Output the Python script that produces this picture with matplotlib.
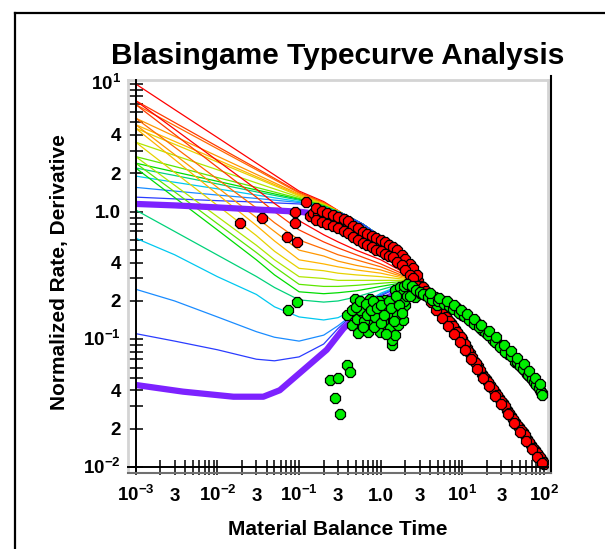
import numpy as np
import matplotlib
matplotlib.use("Agg")
import matplotlib.pyplot as plt
from matplotlib.lines import Line2D
from matplotlib import transforms
from matplotlib.ticker import FixedLocator, NullLocator, NullFormatter

plt.rcParams['font.family'] = ['Liberation Sans', 'DejaVu Sans']
plt.rcParams['mathtext.fontset'] = 'custom'
plt.rcParams['mathtext.rm'] = 'Liberation Sans:bold'
plt.rcParams['mathtext.bf'] = 'Liberation Sans:bold'
plt.rcParams['mathtext.sf'] = 'Liberation Sans:bold'
plt.rcParams['mathtext.it'] = 'Liberation Sans:bold'

# ---------------- data ----------------
TC_COLORS = ['#ff0000', '#ff3a00', '#ff6a00', '#ff9600', '#ffb400', '#e6d200',
             '#b0e600', '#5ce600', '#00dc00', '#00d27a', '#00c8f0', '#1a8cff', '#2a3cff']
MATCH_COLOR = '#7d22ff'

# rate type curves (upper family)
UX = [0.001, 0.003, 0.01, 0.03, 0.1, 0.2]
U_STEM_X = [0.35, 0.6, 1, 2, 3, 5, 10, 20, 30, 50, 100]
U_STEM_Y = [0.96, 0.80, 0.64, 0.44, 0.30, 0.19, 0.10, 0.048, 0.033, 0.020, 0.0103]
U0 = [10.0, 6.3, 3.81, 2.40, 1.45, 1.20]
U1 = [7.4, 4.99, 3.24, 2.19, 1.42, 1.18]
U2 = [6.9, 4.72, 3.11, 2.13, 1.40, 1.17]
U3 = [5.4, 3.89, 2.72, 1.96, 1.37, 1.16]
U4 = [4.8, 3.55, 2.55, 1.88, 1.35, 1.15]
U5 = [4.5, 3.37, 2.45, 1.83, 1.33, 1.14]
U6 = [3.5, 2.76, 2.13, 1.68, 1.30, 1.13]
U7 = [2.7, 2.26, 1.85, 1.55, 1.27, 1.12]
U8 = [2.4, 2.05, 1.73, 1.48, 1.25, 1.11]
U9 = [2.2, 1.92, 1.65, 1.43, 1.23, 1.10]
U10 = [1.9, 1.70, 1.51, 1.35, 1.20, 1.09]
U11 = [1.55, 1.45, 1.35, 1.27, 1.18, 1.08]
U12 = [1.3, 1.26, 1.22, 1.19, 1.15, 1.07]
U_MATCH_X = [0.001, 0.003, 0.01, 0.03, 0.1, 0.13]
U_MATCH_Y = [1.15, 1.12, 1.08, 1.04, 1.0, 0.98]

# derivative type curves (lower family)
LX = [0.001, 0.003, 0.01, 0.03, 0.05, 0.1, 0.2, 0.3, 0.5, 1, 2]
L_STEM_X = [3, 5, 10, 20, 30, 50, 100]
L_STEM_Y = [0.24, 0.195, 0.155, 0.112, 0.087, 0.063, 0.037]
L0 = [7.4, 4.42, 2.51, 1.50, 1.16, 0.85, 0.66, 0.58, 0.50, 0.42, 0.33]
L1 = [6.9, 4.03, 2.23, 1.30, 1.00, 0.72, 0.58, 0.52, 0.46, 0.39, 0.32]
L2 = [5.4, 3.20, 1.80, 1.07, 0.82, 0.60, 0.51, 0.46, 0.42, 0.37, 0.31]
L3 = [4.8, 2.80, 1.55, 0.90, 0.70, 0.50, 0.45, 0.41, 0.38, 0.35, 0.305]
L4 = [4.5, 2.56, 1.37, 0.78, 0.59, 0.42, 0.39, 0.37, 0.35, 0.33, 0.30]
L5 = [3.5, 2.03, 1.12, 0.65, 0.49, 0.36, 0.345, 0.33, 0.32, 0.31, 0.295]
L6 = [2.7, 1.61, 0.915, 0.546, 0.42, 0.31, 0.30, 0.29, 0.29, 0.29, 0.29]
L7 = [2.4, 1.43, 0.806, 0.479, 0.37, 0.27, 0.26, 0.26, 0.265, 0.275, 0.285]
L8 = [2.2, 1.29, 0.72, 0.42, 0.32, 0.236, 0.228, 0.232, 0.24, 0.26, 0.28]
L9 = [1.03, 0.70, 0.458, 0.311, 0.255, 0.204, 0.196, 0.20, 0.215, 0.245, 0.278]
L10 = [0.62, 0.46, 0.31, 0.225, 0.18, 0.15, 0.142, 0.148, 0.175, 0.23, 0.275]
L11 = [0.247, 0.20, 0.15, 0.115, 0.104, 0.097, 0.108, 0.128, 0.165, 0.225, 0.272]
L12 = [0.111, 0.097, 0.083, 0.070, 0.068, 0.073, 0.092, 0.122, 0.165, 0.22, 0.27]
L_MATCH_X = [0.001, 0.0038, 0.0157, 0.0365, 0.058, 0.1, 0.218, 0.35, 0.5, 1, 2]
L_MATCH_Y = [0.044, 0.039, 0.0356, 0.0356, 0.040, 0.054, 0.083, 0.122, 0.15, 0.20, 0.25]

# field data: normalized rate (red)
RATE_X = [0.0189, 0.0355, 0.0718, 0.095, 0.089, 0.089, 0.121, 0.136, 0.15, 0.17,
          0.189, 0.21, 0.239, 0.26, 0.29, 0.316, 0.34, 0.37, 0.40, 0.43,
          0.46, 0.5, 0.54, 0.58, 0.62, 0.67, 0.72, 0.78, 0.85, 0.92,
          1.0, 1.08, 1.17, 1.27, 1.38, 1.5, 1.62, 1.75, 1.9, 2.05,
          2.2, 2.4, 2.6, 2.85, 3.1, 3.4, 3.78, 4.2, 4.7, 5.3,
          5.9, 6.5, 7.2, 8.0, 9.0, 10, 11.2, 12.5, 14, 15.6,
          17.5, 19.5, 22, 25, 28, 31, 35, 39, 44, 49,
          55, 62, 69, 77, 85, 93, 100,
          # upper edge of the band
          0.16, 0.19, 0.22, 0.26, 0.3, 0.35, 0.4, 0.46, 0.52, 0.6,
          0.68, 0.77, 0.87, 1.0, 1.13, 1.27, 1.43, 1.6, 1.8, 2.0,
          2.25, 2.5, 2.8,
          # lower edge of the band
          0.16, 0.19, 0.22, 0.26, 0.3, 0.35, 0.4, 0.46, 0.52, 0.6,
          0.68, 0.77, 0.87, 1.0, 1.13, 1.27, 1.43, 1.6, 1.8, 2.0,
          2.25, 2.5, 2.8,
          # late-time stem
          3.25, 3.6, 4.0, 4.45, 5.0, 5.6, 6.2, 6.85, 7.6, 8.5,
          9.5, 10.6, 11.8, 13.2, 14.8, 16.5, 18.5, 20.7, 23.5, 26.5,
          29.5, 33, 37, 41.5, 46.5, 52, 58.5, 65.5, 73, 81, 89, 96.5,
          # late-time stem, lower side
          3.5, 4.1, 4.8, 5.6, 6.6, 7.8, 9.2, 10.8, 12.7, 15,
          17.8, 21, 25, 30, 36, 43, 51, 60, 70, 82, 95]
RATE_Y = [0.82, 0.887, 0.637, 0.582, 0.816, 1.0, 1.2, 0.925, 0.98, 0.95,
          0.914, 0.90, 0.861, 0.85, 0.83, 0.816, 0.80, 0.78, 0.763, 0.72,
          0.70, 0.67, 0.66, 0.64, 0.62, 0.61, 0.60, 0.58, 0.56, 0.55,
          0.55, 0.53, 0.52, 0.50, 0.49, 0.47, 0.45, 0.43, 0.41, 0.38,
          0.36, 0.34, 0.31, 0.285, 0.26, 0.245, 0.231, 0.20, 0.19, 0.17,
          0.155, 0.145, 0.135, 0.12, 0.108, 0.10, 0.085, 0.078, 0.068, 0.062,
          0.054, 0.049, 0.044, 0.039, 0.035, 0.032, 0.028, 0.025, 0.0225, 0.0205,
          0.019, 0.0165, 0.0148, 0.0135, 0.0124, 0.0114, 0.0105,
          1.06, 1.01, 0.98, 0.94, 0.91, 0.87, 0.84, 0.77, 0.74, 0.69,
          0.67, 0.64, 0.62, 0.60, 0.58, 0.55, 0.53, 0.50, 0.46, 0.43,
          0.39, 0.36, 0.32,
          0.86, 0.83, 0.80, 0.77, 0.74, 0.71, 0.68, 0.63, 0.60, 0.57,
          0.55, 0.53, 0.50, 0.495, 0.47, 0.45, 0.44, 0.405, 0.38, 0.35,
          0.32, 0.30, 0.26,
          0.255, 0.238, 0.215, 0.196, 0.18, 0.163, 0.15, 0.14, 0.128, 0.114,
          0.104, 0.092, 0.081, 0.073, 0.065, 0.058, 0.051, 0.046, 0.041, 0.037,
          0.033, 0.030, 0.0265, 0.0238, 0.0215, 0.0197, 0.0177, 0.0156, 0.0141, 0.0129,
          0.0119, 0.0109,
          0.225, 0.195, 0.17, 0.148, 0.128, 0.11, 0.096, 0.082, 0.07, 0.059,
          0.05, 0.043, 0.036, 0.031, 0.026, 0.022, 0.0188, 0.016, 0.0138, 0.0121, 0.0107]

# field data: derivative (green)
DERIV_X = [0.0738, 0.0935, 0.239, 0.302, 0.275, 0.316, 0.383, 0.42, 0.383, 0.44,
           0.483, 0.507, 0.531, 0.605, 0.671, 0.74, 0.74, 0.89, 0.89, 0.977,
           0.977, 1.125, 1.16, 1.30, 1.30, 1.36, 1.36, 1.49, 1.49, 1.64,
           1.72, 1.72, 1.80, 1.88, 1.88, 2.0, 2.28, 2.5, 2.62, 3.02,
           3.47, 4.6, 4.83, 0.56, 0.62, 0.68, 0.8, 0.85, 1.05, 1.1,
           1.2, 1.4, 1.55, 1.6, 1.95, 2.1, 0.95, 0.7,
           0.45, 0.5, 0.55, 0.6, 0.65, 0.75, 0.8, 0.82, 0.9, 1.0,
           1.0, 1.1, 1.15, 1.25, 1.35, 1.45, 1.55, 1.65, 1.8, 1.9,
           2.1, 2.3, 2.4, 2.7,
           5.5, 6.41, 7.0, 8.5, 9.8, 11.2, 12.9, 14.9, 17.2, 18.8,
           22.8, 23.8, 27, 31.3, 36, 41.9, 44, 48, 53, 57,
           61, 67, 72, 77, 83, 89, 93,
           3.0, 3.3, 3.8, 4.2, 5.0, 5.9, 6.9, 7.6, 9.0, 10.4,
           12.0, 13.8, 16.0, 20.5, 25, 29, 33.5, 39, 46, 51,
           55, 64, 70, 75, 80, 86, 91, 95,
           4.0, 5.2, 6.4, 7.9, 9.5, 11.5, 14, 17, 21, 26,
           32, 39, 47, 56, 66, 78, 88]
DERIV_Y = [0.170, 0.197, 0.0481, 0.0496, 0.0346, 0.0261, 0.063, 0.0558, 0.155, 0.130,
           0.206, 0.144, 0.112, 0.161, 0.18, 0.130, 0.206, 0.192, 0.134, 0.160,
           0.115, 0.204, 0.130, 0.126, 0.160, 0.090, 0.099, 0.108, 0.244, 0.130,
           0.170, 0.259, 0.216, 0.142, 0.23, 0.186, 0.244, 0.244, 0.216, 0.231,
           0.223, 0.216, 0.186, 0.17, 0.14, 0.155, 0.165, 0.15, 0.14, 0.17,
           0.185, 0.19, 0.20, 0.155, 0.20, 0.22, 0.20, 0.115,
           0.17, 0.18, 0.20, 0.125, 0.19, 0.17, 0.20, 0.125, 0.175, 0.185,
           0.135, 0.155, 0.11, 0.20, 0.175, 0.14, 0.22, 0.185, 0.16, 0.26,
           0.27, 0.22, 0.26, 0.245,
           0.20, 0.197, 0.18, 0.175, 0.155, 0.151, 0.138, 0.134, 0.119, 0.115,
           0.102, 0.099, 0.092, 0.084, 0.077, 0.073, 0.067, 0.064, 0.061, 0.058,
           0.054, 0.051, 0.048, 0.0453, 0.043, 0.040, 0.0378,
           0.235, 0.225, 0.215, 0.205, 0.20, 0.19, 0.183, 0.172, 0.16, 0.152,
           0.142, 0.133, 0.124, 0.108, 0.096, 0.088, 0.080, 0.074, 0.066, 0.062,
           0.059, 0.0525, 0.049, 0.0465, 0.044, 0.0415, 0.039, 0.037,
           0.23, 0.212, 0.20, 0.185, 0.17, 0.158, 0.144, 0.13, 0.117, 0.104,
           0.091, 0.081, 0.072, 0.064, 0.057, 0.05, 0.045]

X_TICK_VALUES = [1e-3, 3e-3, 1e-2, 3e-2, 1e-1, 3e-1, 1, 3, 10, 30, 100]
X_TICK_LABELS = [r'$\mathbf{10^{-3}}$', '3', r'$\mathbf{10^{-2}}$', '3', r'$\mathbf{10^{-1}}$',
                 '3', '1.0', '3', r'$\mathbf{10^{1}}$', '3', r'$\mathbf{10^{2}}$']
Y_TICK_VALUES = [10, 4, 2, 1, 0.4, 0.2, 0.1, 0.04, 0.02, 0.01]
Y_TICK_LABELS = [r'$\mathbf{10^{1}}$', '4', '2', '1.0', '4', '2', r'$\mathbf{10^{-1}}$',
                 '4', '2', r'$\mathbf{10^{-2}}$']

TITLE = 'Blasingame Typecurve Analysis'
XLABEL = 'Material Balance Time'
YLABEL = 'Normalized Rate, Derivative'

# ---------------- figure ----------------
W, H = 605, 549
fig = plt.figure(figsize=(W / 100, H / 100), dpi=100)


def fx(px):
    return px / W


def fy(py):
    return 1 - py / H


ax = fig.add_axes([fx(128), fy(472), fx(548) - fx(128), fy(80) - fy(472)])
ax.set_xscale('log')
ax.set_yscale('log')
ax.set_xlim(10 ** -3.094, 10 ** 2.0465)
ax.set_ylim(10 ** -2.038, 10 ** 1.031)

upper = [U0, U1, U2, U3, U4, U5, U6, U7, U8, U9, U10, U11, U12]
lower = [L0, L1, L2, L3, L4, L5, L6, L7, L8, L9, L10, L11, L12]
for col, ys in zip(TC_COLORS, upper):
    ax.plot(UX + U_STEM_X, ys + U_STEM_Y, color=col, lw=0.9, zorder=2)
for col, ys in zip(TC_COLORS, lower):
    ax.plot(LX + L_STEM_X, ys + L_STEM_Y, color=col, lw=0.9, zorder=2)
ax.plot(U_MATCH_X, U_MATCH_Y, color=MATCH_COLOR, lw=4.5, zorder=3, solid_capstyle='butt')
ax.plot(L_MATCH_X, L_MATCH_Y, color=MATCH_COLOR, lw=4.5, zorder=3, solid_capstyle='butt')

ax.plot(RATE_X, RATE_Y, ls='none', marker='8', ms=8.5, mfc='#ff0000', mec='black',
        mew=0.9, zorder=4)
ax.plot(DERIV_X, DERIV_Y, ls='none', marker='8', ms=8.5, mfc='#00ee00', mec='black',
        mew=0.9, zorder=5)

# spines / frame
ax.spines['left'].set_position(('data', 1e-3))
ax.spines['bottom'].set_position(('data', 1e-2))
for s in ('left', 'bottom'):
    ax.spines[s].set_color('black')
    ax.spines[s].set_linewidth(1.4)
    ax.spines[s].set_zorder(6)
for s in ('top', 'right'):
    ax.spines[s].set_color('#d4d4d4')
    ax.spines[s].set_linewidth(2)
ax.add_line(Line2D([0, 0], [0, 1], transform=ax.transAxes, color='#d4d4d4', lw=2,
                   clip_on=False))

xt = [m * 10.0 ** e for e in range(-3, 2) for m in range(1, 10)] + [100.0]
yt = [m * 10.0 ** e for e in range(-2, 1) for m in range(1, 10)] + [10.0]
ax.xaxis.set_major_locator(FixedLocator(xt))
ax.yaxis.set_major_locator(FixedLocator(yt))
ax.xaxis.set_minor_locator(NullLocator())
ax.yaxis.set_minor_locator(NullLocator())
ax.xaxis.set_major_formatter(NullFormatter())
ax.yaxis.set_major_formatter(NullFormatter())
ax.tick_params(axis='x', direction='inout', length=10.8, width=1.1, color='black')
ax.tick_params(axis='y', direction='inout', length=9.4, width=1.1, color='black')

# tick labels
tx = transforms.blended_transform_factory(ax.transData, fig.transFigure)
for v, t in zip(X_TICK_VALUES, X_TICK_LABELS):
    fig.text(v, fy(501), t, transform=tx, ha='center', va='baseline',
             fontsize=13.5, fontweight='bold')
ty = transforms.blended_transform_factory(fig.transFigure, ax.transData)
ty = transforms.offset_copy(ty, fig=fig, y=-6.5, units='dots')
for v, t in zip(Y_TICK_VALUES, Y_TICK_LABELS):
    fig.text(fx(121), v, t, transform=ty, ha='right', va='baseline',
             fontsize=13.5, fontweight='bold')

fig.text(fx(338), fy(63.5), TITLE, ha='center', va='baseline', fontsize=21.5,
         fontweight='bold')
fig.text(fx(338), fy(535), XLABEL, ha='center', va='baseline', fontsize=15,
         fontweight='bold')
fig.text(fx(60), fy(272), YLABEL, ha='center', va='center', rotation=90, fontsize=15,
         fontweight='bold')

# shadow of the plot frame
fig.add_artist(Line2D([fx(551), fx(551)], [fy(473), fy(76)], color='black', lw=1.5))
fig.add_artist(Line2D([fx(128), fx(551)], [fy(473), fy(473)], color='#707070', lw=1.5))
# outer border
fig.add_artist(Line2D([fx(14.5), fx(14.5)], [0, fy(12.5)], color='black', lw=1.6))
fig.add_artist(Line2D([fx(14.5), 1], [fy(12.5), fy(12.5)], color='black', lw=1.6))

fig.savefig('out.png', dpi=100)
